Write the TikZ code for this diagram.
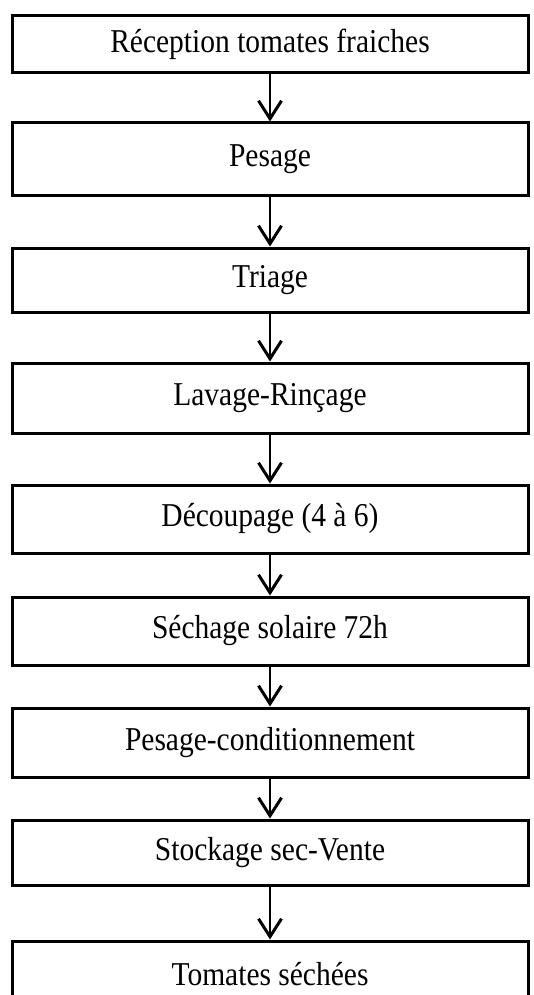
\documentclass[tikz,border=0pt]{standalone}
\usepackage{fontspec}
\setmainfont{Liberation Serif}
\usetikzlibrary{arrows.meta}
\newcommand{\etiq}[1]{\scalebox{1}[1.13]{#1}}

\begin{document}
\begin{tikzpicture}[x=1pt,y=-1pt,
  etape/.style={draw,line width=3pt,minimum width=516pt,inner sep=0pt,
    font=\fontsize{29.5}{34}\selectfont},
  fleche/.style={-{Straight Barb[length=18pt,width=23pt,line width=3pt]},line width=2.5pt}]
  \useasboundingbox (0,0) rectangle (533,995);
  \clip (0,0) rectangle (533,995);

  \node[etape,minimum height=57pt] (recep) at (270,44.5) {\etiq{Réception tomates fraiches}};
  \node[etape,minimum height=72pt] (pesage) at (270,159) {\etiq{Pesage}};
  \node[etape,minimum height=64pt] (triage) at (270,280) {\etiq{Triage}};
  \node[etape,minimum height=70pt] (lavage) at (270,398) {\etiq{Lavage-Rinçage}};
  \node[etape,minimum height=68pt] (decoup) at (270,519) {\etiq{Découpage (4 à 6)}};
  \node[etape,minimum height=68pt] (sechage) at (270,631) {\etiq{Séchage solaire 72h}};
  \node[etape,minimum height=69pt] (condit) at (270,742.5) {\etiq{Pesage-conditionnement}};
  \node[etape,minimum height=65pt] (stock) at (270,852.5) {\etiq{Stockage sec-Vente}};
  \node[etape,minimum height=67pt] (final) at (270,974.5) {\etiq{Tomates séchées}};

  \draw[fleche] (recep) -- (pesage);
  \draw[fleche] (pesage) -- (triage);
  \draw[fleche] (triage) -- (lavage);
  \draw[fleche] (lavage) -- (decoup);
  \draw[fleche] (decoup) -- (sechage);
  \draw[fleche] (sechage) -- (condit);
  \draw[fleche] (condit) -- (stock);
  \draw[fleche] (stock) -- (final);
\end{tikzpicture}
\end{document}
